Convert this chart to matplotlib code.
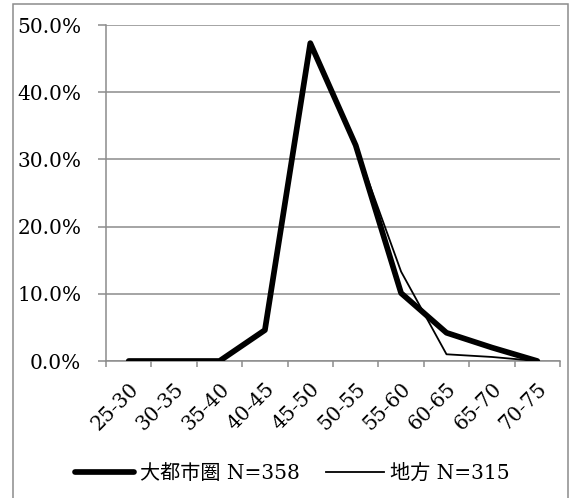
import matplotlib
matplotlib.use("Agg")
import matplotlib.pyplot as plt
from matplotlib.patches import Rectangle
from matplotlib.ticker import FuncFormatter

categories = ["25-30", "30-35", "35-40", "40-45", "45-50",
              "50-55", "55-60", "60-65", "65-70", "70-75"]
metro = [0.0, 0.0, 0.0, 4.6, 47.3, 32.1, 10.1, 4.2, 2.0, 0.0]
regional = [0.0, 0.0, 0.0, 4.6, 47.0, 32.0, 13.3, 1.0, 0.6, 0.0]
metro_label = "大都市圏 N=358"
regional_label = "地方 N=315"

plt.rcParams["font.family"] = ["DejaVu Serif", "Noto Sans CJK JP"]
fs = 14.5

W, H = 570, 498
fig = plt.figure(figsize=(W / 100, H / 100), dpi=100)
ax = fig.add_axes([106 / W, 1 - 361 / H, (560 - 106) / W, (361 - 25) / H])

grid_c = "#8c8c8c"
x = list(range(len(categories)))
ax.plot(x, metro, color="black", lw=4.1, solid_joinstyle="round",
        solid_capstyle="round", label=metro_label, zorder=3)
ax.plot(x, regional, color="black", lw=1.3, label=regional_label, zorder=4)

ax.set_xlim(-0.5, len(categories) - 0.5)
ax.set_ylim(0, 50)
ax.set_yticks([0, 10, 20, 30, 40, 50])
ax.yaxis.set_major_formatter(FuncFormatter(lambda v, p: f"{v:.1f}%"))
ax.yaxis.grid(True, color=grid_c, lw=1.1)
ax.set_axisbelow(True)

ax.set_xticks([i - 0.5 for i in range(len(categories) + 1)], minor=False)
ax.set_xticklabels([])
ax.set_xticks(x, minor=True)
ax.set_xticklabels(categories, minor=True, rotation=45, ha="right",
                   rotation_mode="anchor", fontsize=fs)
ax.tick_params(axis="x", which="minor", length=0, pad=13)
ax.tick_params(axis="x", which="major", length=4.3, color=grid_c, width=1.1)
ax.tick_params(axis="y", length=5.8, color=grid_c, width=1.1, labelsize=fs, pad=12)

for s in ["top", "right"]:
    ax.spines[s].set_visible(False)
for s in ["left", "bottom"]:
    ax.spines[s].set_color(grid_c)
    ax.spines[s].set_linewidth(1.1)

leg = fig.legend(loc="center", bbox_to_anchor=(292.5 / W, 1 - 473 / H), ncol=2,
                 frameon=False, fontsize=fs, handlelength=2.9,
                 handletextpad=0.3, columnspacing=1.3)

fig.patches.append(Rectangle((12.5 / W, -0.01), (568 - 12.5) / W,
                             1 - 3.5 / H + 0.01, transform=fig.transFigure,
                             fill=False, edgecolor=grid_c, lw=1.1))

fig.savefig("out.png", dpi=100, facecolor="white")
